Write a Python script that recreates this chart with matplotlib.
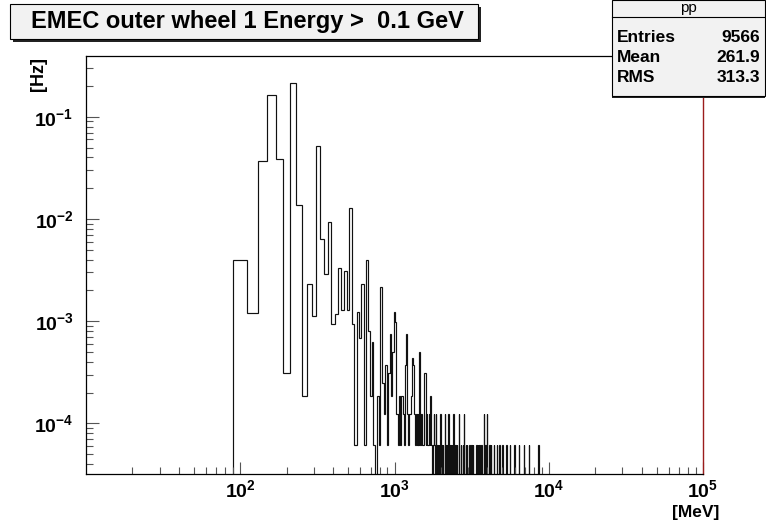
import numpy as np
import matplotlib
matplotlib.use("Agg")
import matplotlib.pyplot as plt
from matplotlib.patches import Rectangle
from matplotlib.ticker import LogLocator, FuncFormatter, NullFormatter, FixedLocator

plt.rcParams['font.family'] = ['Liberation Sans', 'DejaVu Sans']
plt.rcParams['mathtext.fontset'] = 'custom'
plt.rcParams['mathtext.rm'] = 'Liberation Sans:bold'
plt.rcParams['mathtext.bf'] = 'Liberation Sans:bold'
plt.rcParams['mathtext.it'] = 'Liberation Sans:bold'

# ---------------- data ----------------
title = "EMEC outer wheel 1 Energy >  0.1 GeV"
stat_name = "pp"
stat_labels = ["Entries", "Mean", "RMS"]
stat_values = ["9566", "261.9", "313.3"]
x_label = "[MeV]"
y_label = "[Hz]"

bin_width = 20            # MeV
first_edge = 10           # MeV
last_edge = 10010         # MeV

# lower edges (MeV) of the non-empty bins
bin_low = [90, 110, 130, 150, 170, 190, 210, 230, 250, 270, 290, 310, 330, 350, 370,
           390, 410, 430, 450, 470, 490, 510, 530, 550, 570, 590, 610, 630, 650, 670,
           690, 710, 730, 770, 790, 810, 830, 850, 870, 890, 910, 930, 950, 970, 990,
           1010, 1030, 1050, 1070, 1090, 1110, 1130, 1150, 1170, 1190, 1210, 1230, 1250,
           1270, 1290, 1310, 1330, 1350, 1370, 1390, 1410, 1430, 1450, 1470, 1490, 1510,
           1530, 1550, 1570, 1590, 1610, 1630, 1650, 1670, 1690, 1710, 1730, 1770, 1790,
           1810, 1850, 1890, 1930, 1970, 2010, 2050, 2110, 2170, 2230, 2290, 2350, 2410,
           2470, 2530, 2610, 2690, 2770, 2810, 2890, 2950, 3050, 3150, 3230, 3390, 3470,
           3550, 3650, 3810, 3890, 3970, 4110, 4230, 4390, 4590, 4790, 5010, 5310, 5590,
           5990, 6410, 6890, 7450, 8570]
# rate in each of those bins (Hz)
rate_hz = [3.96e-3, 1.19e-3, 3.71e-2, 1.63e-1, 3.85e-2, 3.1e-4, 2.12e-1, 1.37e-2, 1.86e-4,
           2.3e-3, 1.12e-3, 5.2e-2, 6.3e-3, 2.87e-3, 9.4e-3, 9.3e-4, 1.18e-3, 3.35e-3,
           1.3e-3, 3.1e-3, 1.3e-3, 1.27e-2, 9.3e-4, 6.2e-5, 1.24e-3, 6.8e-4, 2.29e-3,
           6.2e-5, 3.97e-3, 8.1e-4, 1.86e-4, 6.2e-4, 6.2e-5, 1.86e-4, 6.2e-5, 2.17e-3,
           2.48e-4, 1.24e-4, 3.72e-4, 6.2e-5, 3.1e-4, 7.44e-4, 1.86e-4, 4.96e-4, 1.24e-3,
           9.92e-4, 1.24e-4, 6.2e-5, 1.86e-4, 6.2e-5, 1.86e-4, 1.24e-4, 6.2e-5, 3.72e-4,
           7.44e-4, 1.24e-4, 6.2e-5, 1.24e-4, 1.86e-4, 4.34e-4, 3.72e-4, 1.24e-4, 6.2e-5,
           1.24e-4, 6.2e-5, 1.24e-4, 6.2e-5, 4.96e-4, 6.2e-5, 1.24e-4, 6.2e-5, 6.2e-5,
           3.1e-4, 3.1e-4, 6.2e-5, 1.24e-4, 6.2e-5, 6.2e-5, 1.24e-4, 6.2e-5, 1.86e-4,
           6.2e-5, 6.2e-5, 1.24e-4, 6.2e-5, 1.24e-4, 6.2e-5, 6.2e-5, 1.24e-4, 6.2e-5,
           6.2e-5, 1.24e-4, 6.2e-5, 1.24e-4, 6.2e-5, 6.2e-5, 1.24e-4, 6.2e-5, 6.2e-5,
           1.24e-4, 6.2e-5, 6.2e-5, 1.24e-4, 6.2e-5, 6.2e-5, 6.2e-5, 6.2e-5, 6.2e-5,
           6.2e-5, 6.2e-5, 6.2e-5, 6.2e-5, 1.24e-4, 6.2e-5, 1.24e-4, 6.2e-5, 6.2e-5,
           6.2e-5, 6.2e-5, 6.2e-5, 6.2e-5, 6.2e-5, 6.2e-5, 6.2e-5, 6.2e-5, 6.2e-5,
           6.2e-5, 6.2e-5]

x_range = (10, 1e5)
y_range = (3.2e-5, 0.393)

# ---------------- build histogram ----------------
edges = np.arange(first_edge, last_edge + bin_width, bin_width, dtype=float)
floor = 1e-8
values = np.full(len(edges) - 1, floor)
idx = np.round((np.array(bin_low) - first_edge) / bin_width).astype(int)
values[idx] = rate_hz

W, H = 766, 521
fig = plt.figure(figsize=(W / 100, H / 100), dpi=100)
fig.patch.set_facecolor('white')

L, R, T, B = 86, 703, 56, 474
ax = fig.add_axes([L / W, 1 - B / H, (R - L) / W, (B - T) / H])
ax.stairs(values, edges, baseline=None, color='#111111', linewidth=0.85)
ax.set_xscale('log')
ax.set_yscale('log')
ax.set_xlim(*x_range)
ax.set_ylim(*y_range)

for s in ['left', 'bottom', 'top']:
    ax.spines[s].set_color('black')
    ax.spines[s].set_linewidth(0.9)
ax.spines['right'].set_color('#9b1c1c')
ax.spines['right'].set_linewidth(1.0)


def pow_fmt(v, pos):
    e = int(round(np.log10(v)))
    return r'$\mathbf{10^{%d}}$' % e


ax.xaxis.set_major_locator(FixedLocator([1e2, 1e3, 1e4, 1e5]))
ax.xaxis.set_minor_locator(LogLocator(base=10, subs=np.arange(2, 10), numticks=20))
ax.yaxis.set_major_locator(LogLocator(base=10, numticks=20))
ax.yaxis.set_minor_locator(LogLocator(base=10, subs=np.arange(2, 10), numticks=20))
ax.xaxis.set_major_formatter(FuncFormatter(pow_fmt))
ax.yaxis.set_major_formatter(FuncFormatter(pow_fmt))
ax.xaxis.set_minor_formatter(NullFormatter())
ax.yaxis.set_minor_formatter(NullFormatter())
ax.tick_params(which='major', direction='in', length=9, width=0.8, color='#555555',
               top=False, right=False, labelsize=14)
ax.tick_params(which='minor', direction='in', length=5, width=0.8, color='#555555',
               top=False, right=False)
ax.tick_params(axis='x', which='major', pad=4)
ax.tick_params(axis='y', which='major', pad=9)

fig.text(719 / W, 1 - 512 / H, x_label, ha='right', va='center', fontsize=12.5,
         fontweight='bold')
fig.text(38 / W, 1 - 74 / H, y_label, ha='center', va='center', fontsize=13,
         fontweight='bold', rotation=90)

# title box with shadow
tx0, ty0, tx1, ty1 = 10, 4, 478, 39
sh = 3
fig.patches.append(Rectangle(((tx0 + sh) / W, 1 - (ty1 + sh) / H), (tx1 - tx0) / W,
                             (ty1 - ty0) / H, transform=fig.transFigure,
                             facecolor='#222222', edgecolor='none'))
fig.patches.append(Rectangle((tx0 / W, 1 - ty1 / H), (tx1 - tx0) / W, (ty1 - ty0) / H,
                             transform=fig.transFigure, facecolor='#f2f2f2',
                             edgecolor='black', linewidth=0.8))
fig.text(((tx0 + tx1) / 2 + 3) / W, 1 - ((ty0 + ty1) / 2) / H, title, ha='center',
         va='center', fontsize=17, fontweight='bold')

# stat box
sx0, sy0, sx1, sy1 = 612, 0, 765, 96
fig.patches.append(Rectangle((sx0 / W, 1 - (sy1 + 2) / H), (sx1 - sx0) / W, (sy1 - sy0) / H,
                             transform=fig.transFigure, facecolor='#222222',
                             edgecolor='none'))
fig.patches.append(Rectangle((sx0 / W, 1 - sy1 / H), (sx1 - sx0) / W, (sy1 - sy0) / H,
                             transform=fig.transFigure, facecolor='#f2f2f2',
                             edgecolor='black', linewidth=0.8))
fig.lines.append(plt.Line2D([sx0 / W, sx1 / W], [1 - 17 / H, 1 - 17 / H],
                            transform=fig.transFigure, color='black', linewidth=0.8))
fig.text(((sx0 + sx1) / 2) / W, 1 - 8 / H, stat_name, ha='center', va='center',
         fontsize=11)
for i, (lab, val) in enumerate(zip(stat_labels, stat_values)):
    yy = 1 - (37 + 20 * i) / H
    fig.text(617 / W, yy, lab, ha='left', va='center', fontsize=12.5, fontweight='bold')
    fig.text(760 / W, yy, val, ha='right', va='center', fontsize=12.5, fontweight='bold')

fig.savefig('out.png', dpi=100)
